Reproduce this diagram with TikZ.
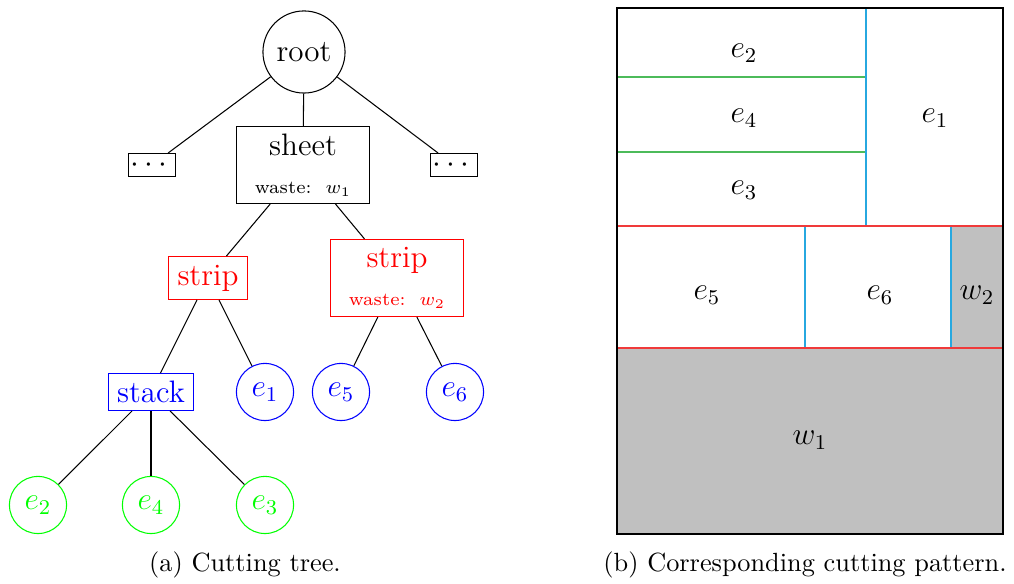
\documentclass[tikz,border=0pt]{standalone}
\usepackage{amsmath,amssymb}
\usepackage{tikz}
\usetikzlibrary{positioning}
\definecolor{cutRed}{HTML}{F03A3A}
\definecolor{cutGreen}{HTML}{4CBB5A}
\definecolor{cutBlue}{HTML}{27A8E0}
\definecolor{waste}{HTML}{C0C0C0}

\begin{document}
\begin{tikzpicture}[
  x=0.38pt, y=-0.38pt,
  treefont/.style={font=\fontsize{11.8}{13.5}\selectfont},
  box/.style={draw, rectangle, inner sep=1pt, align=center, treefont},
  leaf/.style={draw, circle, inner sep=0pt, minimum size=21.7pt, treefont},
  cut/.style={line width=0.9pt},
  edge/.style={draw=black, line width=0.4pt}
]
  \useasboundingbox (0,0) rectangle (1014,584);

  % cutting tree
  \node[leaf, minimum size=31.2pt] (root) at (304,52) {root};
  \node[box, minimum width=50.5pt, minimum height=29.3pt] (sheet) at (303,165)
    {sheet\\[1pt]{\scriptsize waste:\ \ $w_1$}};
  \node[box, minimum width=16.3pt, minimum height=8.7pt] (dotsL) at (152,165) {$\cdots$};
  \node[box, minimum width=16.3pt, minimum height=8.7pt] (dotsR) at (454,165) {$\cdots$};
  \node[box, red, minimum width=30pt, minimum height=16.3pt] (stripL) at (208,278) {strip};
  \node[box, red, minimum width=50.5pt, minimum height=29.3pt] (stripR) at (397,278)
    {strip\\[1pt]{\scriptsize waste:\ \ $w_2$}};
  \node[box, blue, minimum width=32pt, minimum height=14pt] (stack) at (151,392) {stack};
  \node[leaf, blue] (e1) at (265,392) {$e_1$};
  \node[leaf, blue] (e5) at (341,392) {$e_5$};
  \node[leaf, blue] (e6) at (455,392) {$e_6$};
  \node[leaf, green] (e2) at (38,505) {$e_2$};
  \node[leaf, green] (e4) at (151,505) {$e_4$};
  \node[leaf, green] (e3) at (265,505) {$e_3$};

  \draw[edge] (root) -- (dotsL);
  \draw[edge] (root) -- (sheet);
  \draw[edge] (root) -- (dotsR);
  \draw[edge] (sheet) -- (stripL);
  \draw[edge] (sheet) -- (stripR);
  \draw[edge] (stripL) -- (stack);
  \draw[edge] (stripL) -- (e1);
  \draw[edge] (stripR) -- (e5);
  \draw[edge] (stripR) -- (e6);
  \draw[edge] (stack) -- (e2);
  \draw[edge] (stack) -- (e4);
  \draw[edge] (stack) -- (e3);

  \node (capA) at (245,565) {(a) Cutting tree.};

  % cutting pattern
  \fill[waste] (617,348) rectangle (1003,534);
  \fill[waste] (951,226) rectangle (1003,348);
  \draw[cut, cutGreen] (617,77) -- (866,77);
  \draw[cut, cutGreen] (617,152) -- (866,152);
  \draw[cut, cutBlue] (866,8) -- (866,226);
  \draw[cut, cutBlue] (805,226) -- (805,348);
  \draw[cut, cutBlue] (951,226) -- (951,348);
  \draw[cut, cutRed] (617,226) -- (1003,226);
  \draw[cut, cutRed] (617,348) -- (1003,348);
  \draw[line width=1pt] (617,8) rectangle (1003,534);

  \node[treefont] (pe2) at (744,53) {$e_2$};
  \node[treefont] (pe4) at (744,118) {$e_4$};
  \node[treefont] (pe3) at (744,190) {$e_3$};
  \node[treefont] (pe1) at (935,118) {$e_1$};
  \node[treefont] (pe5) at (707,295) {$e_5$};
  \node[treefont] (pe6) at (880,295) {$e_6$};
  \node[treefont] (pw2) at (977,295) {$w_2$};
  \node[treefont] (pw1) at (810,440) {$w_1$};

  \node (capB) at (805,565) {(b) Corresponding cutting pattern.};
\end{tikzpicture}
\end{document}
